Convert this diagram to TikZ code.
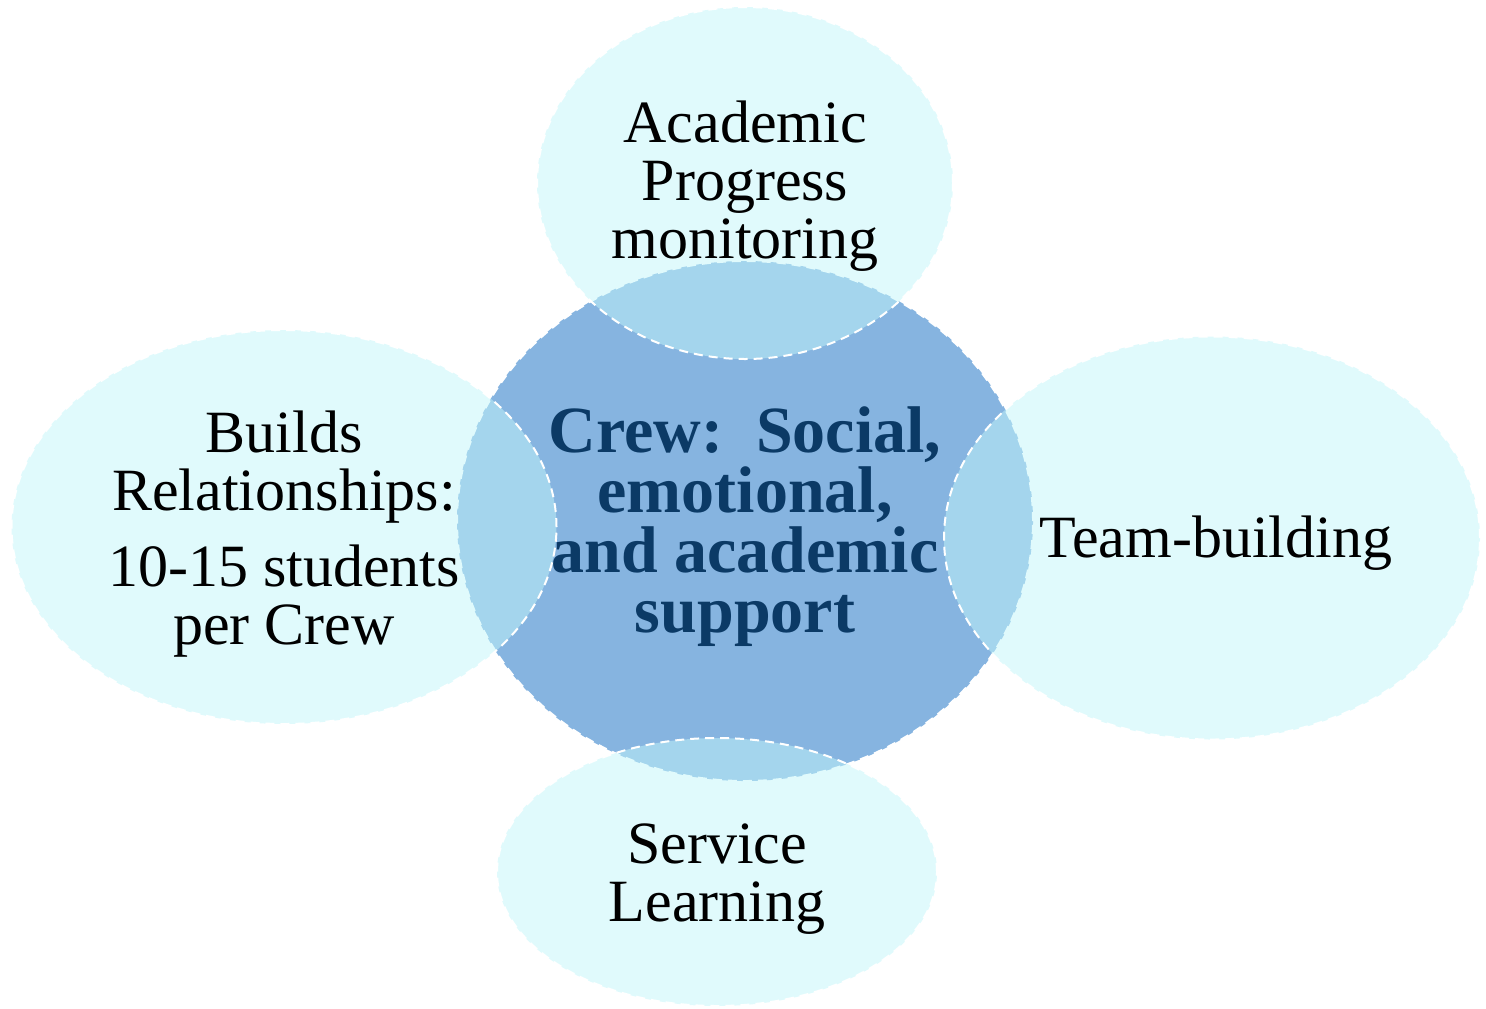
\documentclass[tikz,border=0pt]{standalone}
\usepackage{fontspec}
\setmainfont{Liberation Serif}
\usepackage{tikz}
\usetikzlibrary{shapes.geometric}
\definecolor{crewblue}{HTML}{86B4E0}
\definecolor{petalcyan}{HTML}{C2F6FA}
\definecolor{crewnavy}{HTML}{0B3A66}

\begin{document}
\begin{tikzpicture}[
    x=0.5pt, y=-0.5pt,
    hub/.style={
        ellipse, fill=crewblue, draw=white, line width=1pt,
        dash pattern=on 4.5pt off 3pt, inner sep=0pt,
        minimum width=288pt, minimum height=260pt
    },
    petal/.style={
        ellipse, fill=petalcyan, fill opacity=0.5, draw=white, draw opacity=1,
        line width=1pt, dash pattern=on 4.5pt off 3pt, inner sep=0pt
    },
    hubtext/.style={
        align=center, text=crewnavy, inner sep=0pt,
        font=\fontsize{33}{30}\selectfont\bfseries
    },
    petaltext/.style={
        align=center, text=black, inner sep=0pt,
        font=\fontsize{30}{29}\selectfont
    }
]
\useasboundingbox (0,0) rectangle (1486,1008);

% --- Centre ---
\node[hub] (crew) at (745,521) {};
\node[hubtext] (crewtxt) at (745,527) {Crew:\ \ Social,\\emotional,\\and academic\\support};

% --- Petals ---
\node[petal, minimum width=208pt, minimum height=176pt] (acad) at (745,183) {};
\node[petal, minimum width=272.5pt, minimum height=197pt] (rel) at (284,527) {};
\node[petal, minimum width=268pt, minimum height=201.5pt] (team) at (1212,538) {};
\node[petal, minimum width=220pt, minimum height=134pt] (serv) at (717,872) {};

% --- Petal labels ---
\node[petaltext] (acadtxt) at (745,186) {Academic\\Progress\\monitoring};
\node[petaltext] (reltxt) at (284,534) {Builds\\Relationships:\\[9pt]10-15 students\\per Crew};
\node[petaltext] (teamtxt) at (1216,543) {Team-building};
\node[petaltext] (servtxt) at (717,879) {Service\\Learning};

\end{tikzpicture}
\end{document}
